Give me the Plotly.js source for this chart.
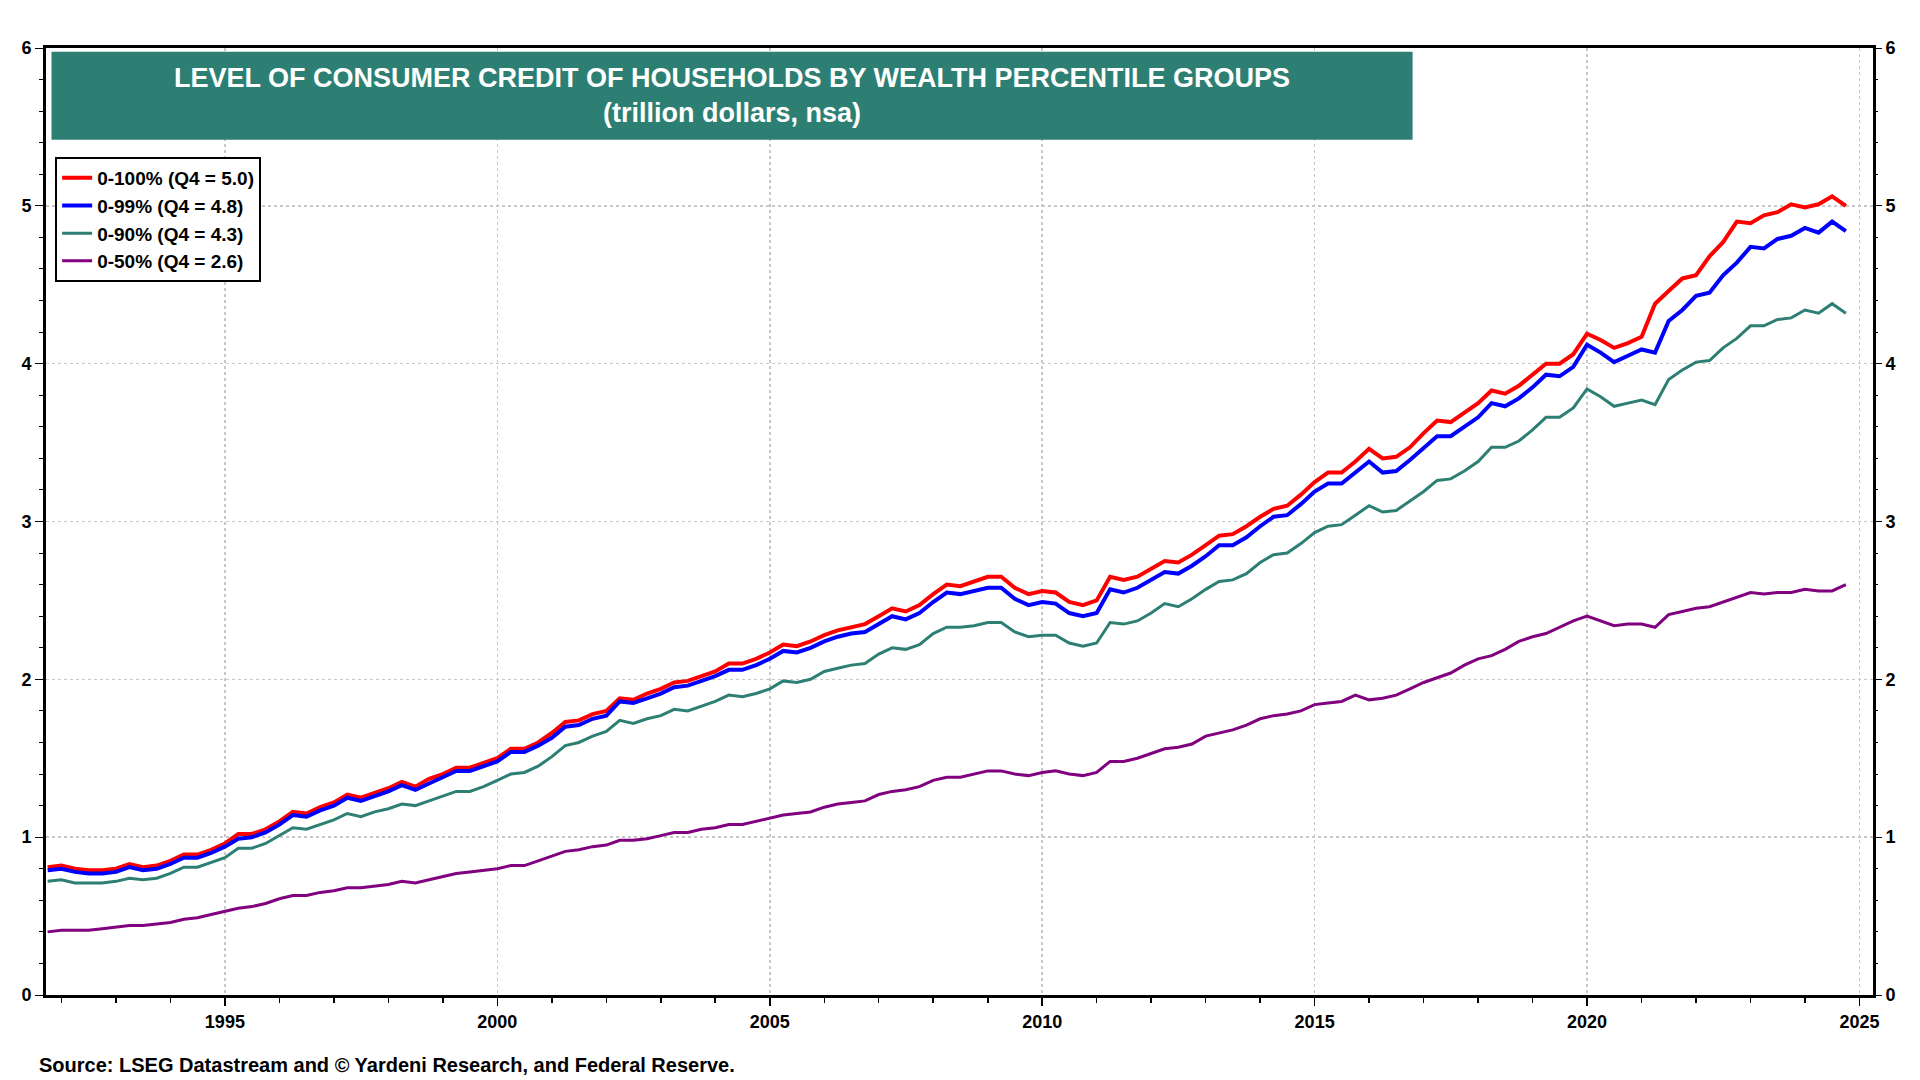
<!DOCTYPE html>
<html>
<head>
<meta charset="utf-8">
<script src="https://cdn.plot.ly/plotly-3.0.1.min.js"></script>
<style>html,body{margin:0;padding:0;background:#fff}#chart{width:1920px;height:1080px}</style>
</head>
<body>
<div id="chart"></div>
<script>
// quarterly, 1991 Q4 .. 2024 Q4 (trillion dollars)
const startYear = 1991, startQuarter = 4;
const all100 = [0.81,
  0.82,0.80,0.79,0.79, 0.80,0.83,0.81,0.82, 0.85,0.89,0.89,0.92, 0.96,1.02,1.02,1.05,
  1.10,1.16,1.15,1.19, 1.22,1.27,1.25,1.28, 1.31,1.35,1.32,1.37, 1.40,1.44,1.44,1.47,
  1.50,1.56,1.56,1.60, 1.66,1.73,1.74,1.78, 1.80,1.88,1.87,1.91, 1.94,1.98,1.99,2.02,
  2.05,2.10,2.10,2.13, 2.17,2.22,2.21,2.24, 2.28,2.31,2.33,2.35, 2.40,2.45,2.43,2.47,
  2.54,2.60,2.59,2.62, 2.65,2.65,2.58,2.54, 2.56,2.55,2.49,2.47, 2.50,2.65,2.63,2.65,
  2.70,2.75,2.74,2.79, 2.85,2.91,2.92,2.97, 3.03,3.08,3.10,3.17, 3.25,3.31,3.31,3.38,
  3.46,3.40,3.41,3.47, 3.56,3.64,3.63,3.69, 3.75,3.83,3.81,3.86, 3.93,4.00,4.00,4.06,
  4.19,4.15,4.10,4.13, 4.17,4.38,4.46,4.54, 4.56,4.68,4.77,4.90, 4.89,4.94,4.96,5.01,
  4.99,5.01,5.06,5.00];
const p99 = [0.79,
  0.80,0.78,0.77,0.77, 0.78,0.81,0.79,0.80, 0.83,0.87,0.87,0.90, 0.94,0.99,1.00,1.03,
  1.08,1.14,1.13,1.17, 1.20,1.25,1.23,1.26, 1.29,1.33,1.30,1.34, 1.38,1.42,1.42,1.45,
  1.48,1.54,1.54,1.58, 1.63,1.70,1.71,1.75, 1.77,1.86,1.85,1.88, 1.91,1.95,1.96,1.99,
  2.02,2.06,2.06,2.09, 2.13,2.18,2.17,2.20, 2.24,2.27,2.29,2.30, 2.35,2.40,2.38,2.42,
  2.49,2.55,2.54,2.56, 2.58,2.58,2.51,2.47, 2.49,2.48,2.42,2.40, 2.42,2.57,2.55,2.58,
  2.63,2.68,2.67,2.72, 2.78,2.85,2.85,2.90, 2.97,3.03,3.04,3.11, 3.19,3.24,3.24,3.31,
  3.38,3.31,3.32,3.39, 3.47,3.54,3.54,3.60, 3.66,3.75,3.73,3.78, 3.85,3.93,3.92,3.98,
  4.12,4.07,4.01,4.05, 4.09,4.07,4.27,4.34, 4.43,4.45,4.56,4.64, 4.74,4.73,4.79,4.81,
  4.86,4.83,4.90,4.84];
const p90 = [0.72,
  0.73,0.71,0.71,0.71, 0.72,0.74,0.73,0.74, 0.77,0.81,0.81,0.84, 0.87,0.93,0.93,0.96,
  1.01,1.06,1.05,1.08, 1.11,1.15,1.13,1.16, 1.18,1.21,1.20,1.23, 1.26,1.29,1.29,1.32,
  1.36,1.40,1.41,1.45, 1.51,1.58,1.60,1.64, 1.67,1.74,1.72,1.75, 1.77,1.81,1.80,1.83,
  1.86,1.90,1.89,1.91, 1.94,1.99,1.98,2.00, 2.05,2.07,2.09,2.10, 2.16,2.20,2.19,2.22,
  2.29,2.33,2.33,2.34, 2.36,2.36,2.30,2.27, 2.28,2.28,2.23,2.21, 2.23,2.36,2.35,2.37,
  2.42,2.48,2.46,2.51, 2.57,2.62,2.63,2.67, 2.74,2.79,2.80,2.86, 2.93,2.97,2.98,3.04,
  3.10,3.06,3.07,3.13, 3.19,3.26,3.27,3.32, 3.38,3.47,3.47,3.51, 3.58,3.66,3.66,3.72,
  3.84,3.79,3.73,3.75, 3.77,3.74,3.90,3.96, 4.01,4.02,4.10,4.16, 4.24,4.24,4.28,4.29,
  4.34,4.32,4.38,4.32];
const p50 = [0.40,
  0.41,0.41,0.41,0.42, 0.43,0.44,0.44,0.45, 0.46,0.48,0.49,0.51, 0.53,0.55,0.56,0.58,
  0.61,0.63,0.63,0.65, 0.66,0.68,0.68,0.69, 0.70,0.72,0.71,0.73, 0.75,0.77,0.78,0.79,
  0.80,0.82,0.82,0.85, 0.88,0.91,0.92,0.94, 0.95,0.98,0.98,0.99, 1.01,1.03,1.03,1.05,
  1.06,1.08,1.08,1.10, 1.12,1.14,1.15,1.16, 1.19,1.21,1.22,1.23, 1.27,1.29,1.30,1.32,
  1.36,1.38,1.38,1.40, 1.42,1.42,1.40,1.39, 1.41,1.42,1.40,1.39, 1.41,1.48,1.48,1.50,
  1.53,1.56,1.57,1.59, 1.64,1.66,1.68,1.71, 1.75,1.77,1.78,1.80, 1.84,1.85,1.86,1.90,
  1.87,1.88,1.90,1.94, 1.98,2.01,2.04,2.09, 2.13,2.15,2.19,2.24, 2.27,2.29,2.33,2.37,
  2.40,2.37,2.34,2.35, 2.35,2.33,2.41,2.43, 2.45,2.46,2.49,2.52, 2.55,2.54,2.55,2.55,
  2.57,2.56,2.56,2.60];
const tickYears = ["1995","2000","2005","2010","2015","2020","2025"];
const seriesNames = ["0-100% (Q4 = 5.0)","0-99% (Q4 = 4.8)","0-90% (Q4 = 4.3)","0-50% (Q4 = 2.6)"];

const dates = all100.map((_, i) => {
  const q = startQuarter - 1 + i;
  const y = startYear + Math.floor(q / 4);
  const m = (q % 4) * 3 + 1;
  return y + "-" + String(m).padStart(2, "0") + "-01";
});

const mk = (y, name, color, w) => ({x: dates, y: y, name: name, type: "scatter", mode: "lines",
  line: {color: color, width: w}});
const traces = [
  mk(all100, seriesNames[0], "#ff0000", 4),
  mk(p99, seriesNames[1], "#0000ff", 4),
  mk(p90, seriesNames[2], "#2e7f73", 3),
  mk(p50, seriesNames[3], "#800080", 3),
  {x: [dates[0]], y: [0], yaxis: "y2", showlegend: false, hoverinfo: "skip", mode: "markers", marker: {opacity: 0}}
];

const axFont = {family: "Arial, Liberation Sans, sans-serif", size: 18, color: "#000"};
const layout = {
  width: 1920, height: 1080,
  margin: {l: 46, r: 47, t: 48, b: 85},
  paper_bgcolor: "#fff", plot_bgcolor: "#fff",
  font: {family: "Arial, Liberation Sans, sans-serif", color: "#000"},
  xaxis: {
    type: "date", range: ["1991-09-20", "2025-04-01"],
    tickvals: tickYears.map(y => y + "-01-01"), ticktext: tickYears,
    ticks: "outside", ticklen: 8, tickwidth: 1.5, tickcolor: "#000",
    minor: {dtick: "M12", ticks: "outside", ticklen: 5, tickcolor: "#000", showgrid: false},
    showgrid: true, gridcolor: "#c8c8c8", griddash: "dot", gridwidth: 1.5,
    showline: true, linecolor: "#000", linewidth: 3, mirror: true,
    tickfont: Object.assign({}, axFont, {weight: "bold"})
  },
  yaxis: {
    range: [0, 6], dtick: 1, ticks: "outside", ticklen: 8, tickcolor: "#000",
    minor: {dtick: 0.2, ticks: "outside", ticklen: 4, tickcolor: "#000", showgrid: false},
    showgrid: true, gridcolor: "#c8c8c8", griddash: "dot", gridwidth: 1.5,
    showline: true, linecolor: "#000", linewidth: 3, mirror: true, zeroline: false,
    tickfont: Object.assign({}, axFont, {weight: "bold"})
  },
  yaxis2: {
    range: [0, 6], dtick: 1, overlaying: "y", side: "right", ticks: "outside", ticklen: 8,
    tickcolor: "#000", showgrid: false, zeroline: false,
    minor: {dtick: 0.2, ticks: "outside", ticklen: 4, tickcolor: "#000"},
    tickfont: Object.assign({}, axFont, {weight: "bold"})
  },
  legend: {
    x: 0.005, y: 0.885, xanchor: "left", yanchor: "top",
    bgcolor: "#fff", bordercolor: "#000", borderwidth: 2,
    font: {size: 19, weight: "bold", color: "#000"}, tracegroupgap: 0
  },
  shapes: [{type: "rect", xref: "paper", yref: "paper", x0: 0.003, x1: 0.748, y0: 0.903, y1: 0.996,
    fillcolor: "#2e7f73", line: {width: 0}}],
  annotations: [
    {xref: "paper", yref: "paper", x: 0.3755, y: 0.95, xanchor: "center", yanchor: "middle", showarrow: false,
     align: "center",
     text: "LEVEL OF CONSUMER CREDIT OF HOUSEHOLDS BY WEALTH PERCENTILE GROUPS<br>(trillion dollars, nsa)",
     font: {size: 27, color: "#fff", weight: "bold"}},
    {xref: "paper", yref: "paper", x: -0.005, y: -0.06, xanchor: "left", yanchor: "top", showarrow: false,
     text: "Source: LSEG Datastream and © Yardeni Research, and Federal Reserve.",
     font: {size: 20, color: "#000", weight: "bold"}}
  ]
};

Plotly.newPlot("chart", traces, layout, {staticPlot: true});
</script>
</body>
</html>
